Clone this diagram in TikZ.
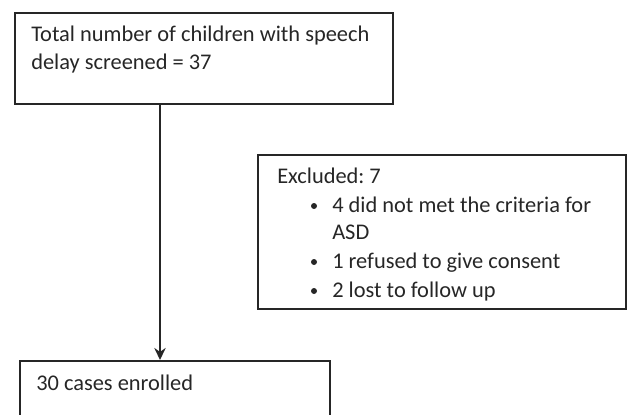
\documentclass[tikz,border=0pt]{standalone}
\usepackage{fontspec}
\setmainfont{Carlito}
\usetikzlibrary{arrows.meta}
\frenchspacing
\begin{document}
\begin{tikzpicture}[x=0.75pt,y=-0.75pt,
  box/.style={draw=black!85, line width=1.5pt, rectangle, inner sep=0pt, anchor=north west},
  txt/.style={anchor=base west, inner sep=0pt, text=black!85, font=\fontsize{16.8pt}{20pt}\selectfont},
  bul/.style={anchor=center, inner sep=0pt, fill=black!85, circle, minimum size=4.5pt},
  conn/.style={draw=black!85, line width=1.5pt, -{Stealth[length=9pt,width=8.5pt]}}]
\useasboundingbox (0,0) rectangle (628,414);
\clip (0,0) rectangle (628,414);
% top box
\node[box, minimum width=378*0.75pt, minimum height=91*0.75pt] (top) at (14,12) {};
\node[txt] (t1) at (31,41.5) {Total number of children with speech};
\node[txt] (t2) at (31,69) {delay screened = 37};
% excluded box
\node[box, minimum width=368*0.75pt, minimum height=154*0.75pt] (excl) at (257,154) {};
\node[txt] (e0) at (277,183) {Excluded: 7};
\node[bul] (b1) at (314,206) {};
\node[txt] (e1) at (332,212) {4 did not met the criteria for};
\node[txt] (e1b) at (332,239) {ASD};
\node[bul] (b2) at (314,262) {};
\node[txt] (e2) at (332,268) {1 refused to give consent};
\node[bul] (b3) at (314,291) {};
\node[txt] (e3) at (332,297) {2 lost to follow up};
% bottom box
\node[box, minimum width=310*0.75pt, minimum height=80*0.75pt] (bot) at (19,360) {};
\node[txt] (b0) at (36,390) {30 cases enrolled};
% connector
\coordinate (a1) at (160,103);
\coordinate (a2) at (160,360);
\draw[conn] (top.south -| a1) -- (bot.north -| a2);
\end{tikzpicture}
\end{document}
